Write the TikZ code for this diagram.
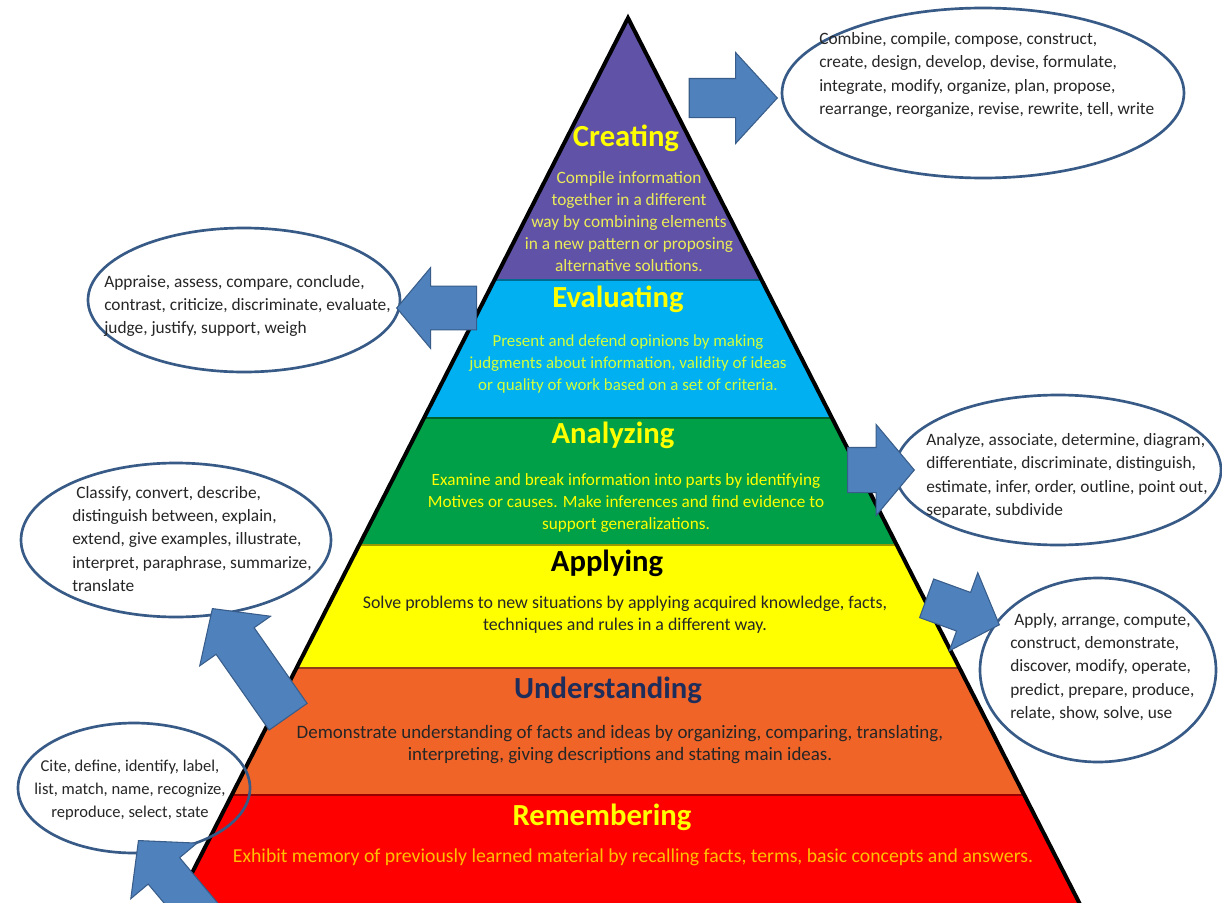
\documentclass[tikz,border=0pt]{standalone}
\usepackage{fontspec}
\setmainfont{Carlito}
\usetikzlibrary{shapes.geometric,shapes.arrows,calc}

\definecolor{crPurple}{RGB}{96,82,166}
\definecolor{evCyan}{RGB}{0,176,240}
\definecolor{anGreen}{RGB}{0,160,72}
\definecolor{apYellow}{RGB}{255,255,0}
\definecolor{unOrange}{RGB}{240,100,40}
\definecolor{reRed}{RGB}{255,0,0}
\definecolor{arrowBlue}{RGB}{79,129,189}
\definecolor{arrowEdge}{RGB}{56,93,138}
\definecolor{bubbleBlue}{RGB}{55,90,135}
\definecolor{verbGray}{RGB}{38,38,38}
\definecolor{lightYellow}{RGB}{235,235,90}
\definecolor{limeText}{RGB}{210,255,60}
\definecolor{navyText}{RGB}{31,45,90}
\definecolor{amberText}{RGB}{255,192,0}

\begin{document}
\begin{tikzpicture}[x=0.75pt,y=-0.75pt,
  every node/.style={inner sep=0pt},
  band/.style={line width=1.2pt},
  lvltitle/.style={font=\fontsize{23}{26}\selectfont\bfseries},
  lvltext/.style={font=\fontsize{#1}{16.5}\selectfont, align=center},
  verbs/.style={font=\fontsize{13}{17.5}\selectfont, text=verbGray, align=left, anchor=west},
  bubble/.style={ellipse, draw=bubbleBlue, line width=2pt},
  fatarrow/.style={single arrow, draw=arrowEdge, fill=arrowBlue, line width=0.8pt,
    inner xsep=0pt, single arrow head indent=0pt, anchor=tip}
]
  \useasboundingbox (0,0) rectangle (1222,903);
  \clip (0,0) rectangle (1222,903);
  \fill[white] (0,0) rectangle (1222,903);

  % pyramid
  \coordinate (apex) at (628,18);
  \coordinate (bl) at (168,920);
  \coordinate (br) at (1088,920);
  \foreach \ta/\tb/\col in {0/0.2905/crPurple, 0.2905/0.4435/evCyan,
      0.4435/0.5843/anGreen, 0.5843/0.7206/apYellow,
      0.7206/0.8614/unOrange, 0.8614/1/reRed} {
    \filldraw[band, fill=\col, draw=\col!60!black]
      ($(apex)!\ta!(bl)$) -- ($(apex)!\tb!(bl)$) -- ($(apex)!\tb!(br)$) -- ($(apex)!\ta!(br)$) -- cycle;
  }
  \draw[line width=3pt, line join=miter] (bl) -- (apex) -- (br);

  % levels
  \node[lvltitle, text=apYellow] (crTitle) at (626,138) {Creating};
  \node[lvltext=13, text=lightYellow] (crText) at (629,222)
    {Compile information\\together in a different\\way by combining elements\\in a new pattern or proposing\\alternative solutions.};
  \node[lvltitle, text=apYellow] (evTitle) at (618,299) {Evaluating};
  \node[lvltext=12.7, text=limeText] (evText) at (628,364)
    {Present and defend opinions by making\\judgments about information, validity of ideas\\or quality of work based on a set of criteria.};
  \node[lvltitle, text=apYellow] (anTitle) at (613,435) {Analyzing};
  \node[lvltext=12.9, text=apYellow] (anText) at (626,503)
    {Examine and break information into parts by identifying\\Motives or causes. Make inferences and find evidence to\\support generalizations.};
  \node[lvltitle, text=black] (apTitle) at (607,563) {Applying};
  \node[lvltext=13.4, text=verbGray] (apText) at (625,615)
    {Solve problems to new situations by applying acquired knowledge, facts,\\techniques and rules in a different way.};
  \node[lvltitle, text=navyText] (unTitle) at (608,690) {Understanding};
  \node[lvltext=14.2, text=verbGray] (unText) at (620,745)
    {Demonstrate understanding of facts and ideas by organizing, comparing, translating,\\interpreting, giving descriptions and stating main ideas.};
  \node[lvltitle, text=apYellow] (reTitle) at (602,817) {Remembering};
  \node[lvltext=14.8, text=amberText] (reText) at (633,857)
    {Exhibit memory of previously learned material by recalling facts, terms, basic concepts and answers.};

  % verb bubbles
  \node[bubble, minimum width=301.5pt, minimum height=127.5pt] (crBubble) at (983,93) {};
  \node[bubble, minimum width=234pt, minimum height=108pt] (evBubble) at (244,300) {};
  \node[bubble, minimum width=244.5pt, minimum height=112.5pt] (anBubble) at (1058,470) {};
  \node[bubble, minimum width=232.5pt, minimum height=115.5pt] (unBubble) at (176,540) {};
  \node[bubble, minimum width=177pt, minimum height=138pt] (apBubble) at (1098,670) {};
  \node[bubble, minimum width=174pt, minimum height=97.5pt] (reBubble) at (134,788) {};

  \node[verbs] (crWords) at (819,75)
    {Combine, compile, compose, construct,\\create, design, develop, devise, formulate,\\integrate, modify, organize, plan, propose,\\rearrange, reorganize, revise, rewrite, tell, write};
  \node[verbs] (evWords) at (104,306)
    {Appraise, assess, compare, conclude,\\contrast, criticize, discriminate, evaluate,\\judge, justify, support, weigh};
  \node[verbs] (anWords) at (926,476)
    {Analyze, associate, determine, diagram,\\differentiate, discriminate, distinguish,\\estimate, infer, order, outline, point out,\\separate, subdivide};
  \node[verbs] (unWords) at (72,539)
    {\hspace*{3pt}Classify, convert, describe,\\distinguish between, explain,\\extend, give examples, illustrate,\\interpret, paraphrase, summarize,\\translate};
  \node[verbs] (apWords) at (1010,667)
    {\hspace*{3pt}Apply, arrange, compute,\\construct, demonstrate,\\discover, modify, operate,\\predict, prepare, produce,\\relate, show, solve, use};
  \node[verbs, font=\fontsize{12.4}{17.5}\selectfont, align=center, anchor=center] (reWords) at (130,790)
    {Cite, define, identify, label,\\list, match, name, recognize,\\reproduce, select, state};

  % arrows from the levels to the bubbles
  \node[fatarrow, inner ysep=14.25pt, minimum height=66pt, single arrow head extend=19.5pt,
    single arrow tip angle=95] (crArrow) at (778,98) {};
  \node[fatarrow, rotate=180, inner ysep=16pt, minimum height=60pt, single arrow head extend=14pt,
    single arrow tip angle=100] (evArrow) at (396,308) {};
  \node[fatarrow, inner ysep=16.5pt, minimum height=50pt, single arrow head extend=17.25pt,
    single arrow tip angle=100] (anArrow) at (915,470) {};
  \node[fatarrow, rotate=125, inner ysep=17pt, minimum height=99pt, single arrow head extend=15pt,
    single arrow tip angle=95] (unArrow) at (212,608) {};
  \node[fatarrow, rotate=-20, inner ysep=15pt, minimum height=58pt, single arrow head extend=15.75pt,
    single arrow tip angle=95] (apArrow) at (1000,625) {};
  \node[fatarrow, rotate=130, inner ysep=15pt, minimum height=82.5pt, single arrow head extend=17pt,
    single arrow tip angle=95] (reArrow) at (138,840) {};
\end{tikzpicture}
\end{document}
